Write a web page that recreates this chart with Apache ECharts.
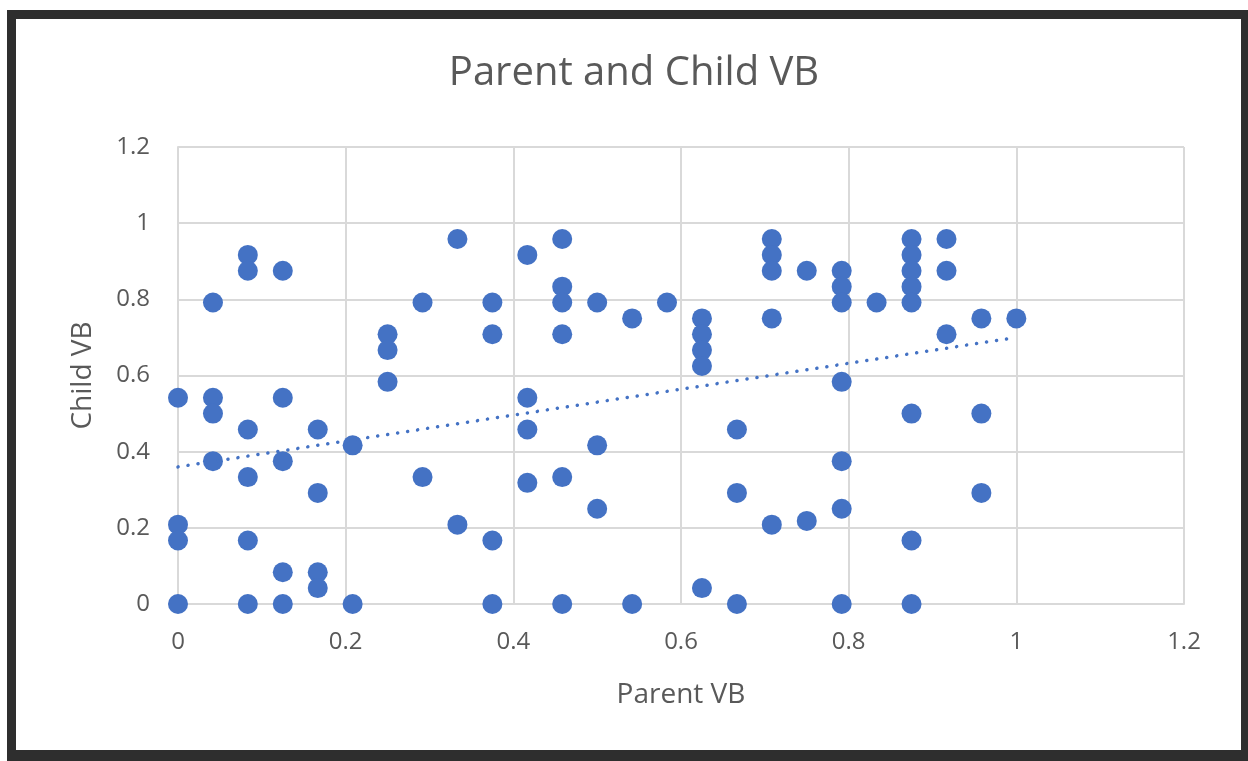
<!DOCTYPE html>
<html>
<head>
<meta charset="utf-8">
<script src="https://cdn.jsdelivr.net/npm/echarts@6/dist/echarts.min.js"></script>
<style>
html,body{margin:0;padding:0;background:#fff;width:1248px;height:761px;overflow:hidden;}
#frame{position:absolute;left:7px;top:10px;width:1225px;height:731px;border-style:solid;border-color:#2e2e2e;border-width:9px 7px 11px 9px;box-sizing:content-box;}
#main{position:absolute;left:0;top:0;width:1248px;height:761px;}
</style>
</head>
<body>
<div id="frame"></div>
<div id="main"></div>
<script>
// Parent VB (x) and Child VB (y) values
const parentVB = [
  0, 0, 0, 0,
  0.0417, 0.0417, 0.0417, 0.0417,
  0.0833, 0.0833, 0.0833, 0.0833, 0.0833, 0.0833,
  0.125, 0.125, 0.125, 0.125, 0.125,
  0.1667, 0.1667, 0.1667, 0.1667,
  0.2083, 0.2083,
  0.25, 0.25, 0.25,
  0.2917, 0.2917,
  0.3333, 0.3333,
  0.375, 0.375, 0.375, 0.375,
  0.4167, 0.4167, 0.4167, 0.4167,
  0.4583, 0.4583, 0.4583, 0.4583, 0.4583, 0.4583,
  0.5, 0.5, 0.5,
  0.5417, 0.5417,
  0.5833,
  0.625, 0.625, 0.625, 0.625, 0.625,
  0.6667, 0.6667, 0.6667,
  0.7083, 0.7083, 0.7083, 0.7083, 0.7083,
  0.75, 0.75,
  0.7917, 0.7917, 0.7917, 0.7917, 0.7917, 0.7917, 0.7917,
  0.8333,
  0.875, 0.875, 0.875, 0.875, 0.875, 0.875, 0.875, 0.875,
  0.9167, 0.9167, 0.9167,
  0.9583, 0.9583, 0.9583,
  1
];
const childVB = [
  0.5417, 0.2083, 0.1667, 0,
  0.7917, 0.5417, 0.5, 0.375,
  0.9167, 0.875, 0.4583, 0.3333, 0.1667, 0,
  0.875, 0.5417, 0.375, 0.0833, 0,
  0.4583, 0.2917, 0.0833, 0.0417,
  0.4167, 0,
  0.7083, 0.6667, 0.5833,
  0.7917, 0.3333,
  0.9583, 0.2083,
  0.7917, 0.7083, 0.1667, 0,
  0.9167, 0.5417, 0.4583, 0.3182,
  0.9583, 0.8333, 0.7917, 0.7083, 0.3333, 0,
  0.7917, 0.4167, 0.25,
  0.75, 0,
  0.7917,
  0.75, 0.7083, 0.6667, 0.625, 0.0417,
  0.4583, 0.2917, 0,
  0.9583, 0.9167, 0.875, 0.75, 0.2083,
  0.875, 0.2182,
  0.875, 0.8333, 0.7917, 0.5833, 0.375, 0.25, 0,
  0.7917,
  0.9583, 0.9167, 0.875, 0.8333, 0.7917, 0.5, 0.1667, 0,
  0.9583, 0.875, 0.7083,
  0.75, 0.5, 0.2917,
  0.75
];
// linear trendline as drawn in the picture (start and end)
const trendX = [0, 1];
const trendY = [0.36, 0.70];
const xTicks = [0, 0.2, 0.4, 0.6, 0.8, 1, 1.2];
const yTicks = [0, 0.2, 0.4, 0.6, 0.8, 1, 1.2];

const points = parentVB.map((x,i)=>[x, childVB[i]]);
const trend = trendX.map((x,i)=>[x, trendY[i]]);
const FONT = '"Open Sans", "Noto Sans", sans-serif';
const fmt = v=>String(parseFloat(v.toFixed(2)));
const chart = echarts.init(document.getElementById('main'), null, {renderer:'canvas'});
chart.setOption({
  animation:false,
  backgroundColor:'transparent',
  title:{
    text:'Parent and Child VB',
    left:629, top:49, textAlign:'center',
    textStyle:{fontFamily:FONT, fontSize:40, fontWeight:'normal', color:'#595959'}
  },
  grid:{left:178, right:64, top:147, bottom:157, containLabel:false},
  xAxis:{
    type:'value', min:xTicks[0], max:xTicks[xTicks.length-1], interval:0.2,
    name:'Parent VB', nameLocation:'middle', nameGap:77,
    nameTextStyle:{fontFamily:FONT, fontSize:28, color:'#595959'},
    axisLine:{show:true, lineStyle:{color:'#d9d9d9', width:2}},
    axisTick:{show:false},
    axisLabel:{fontFamily:FONT, fontSize:24, color:'#595959', margin:26, formatter:fmt},
    splitLine:{show:true, lineStyle:{color:'#d9d9d9', width:2}}
  },
  yAxis:{
    type:'value', min:yTicks[0], max:yTicks[yTicks.length-1], interval:0.2,
    name:'Child VB', nameLocation:'middle', nameGap:81, nameRotate:90,
    nameTextStyle:{fontFamily:FONT, fontSize:28, color:'#595959'},
    axisLine:{show:true, lineStyle:{color:'#d9d9d9', width:2}},
    axisTick:{show:false},
    axisLabel:{fontFamily:FONT, fontSize:24, color:'#595959', margin:28, formatter:fmt},
    splitLine:{show:true, lineStyle:{color:'#d9d9d9', width:2}}
  },
  series:[
    {
      type:'scatter', data:points, symbol:'circle', symbolSize:20,
      itemStyle:{color:'#4472C4', opacity:1},
      z:3
    },
    {
      type:'line', data:trend, symbol:'none', silent:true,
      lineStyle:{color:'#4472C4', width:3.5, type:[0.1,10], cap:'round', opacity:1},
      z:4
    }
  ]
});
</script>
</body>
</html>
